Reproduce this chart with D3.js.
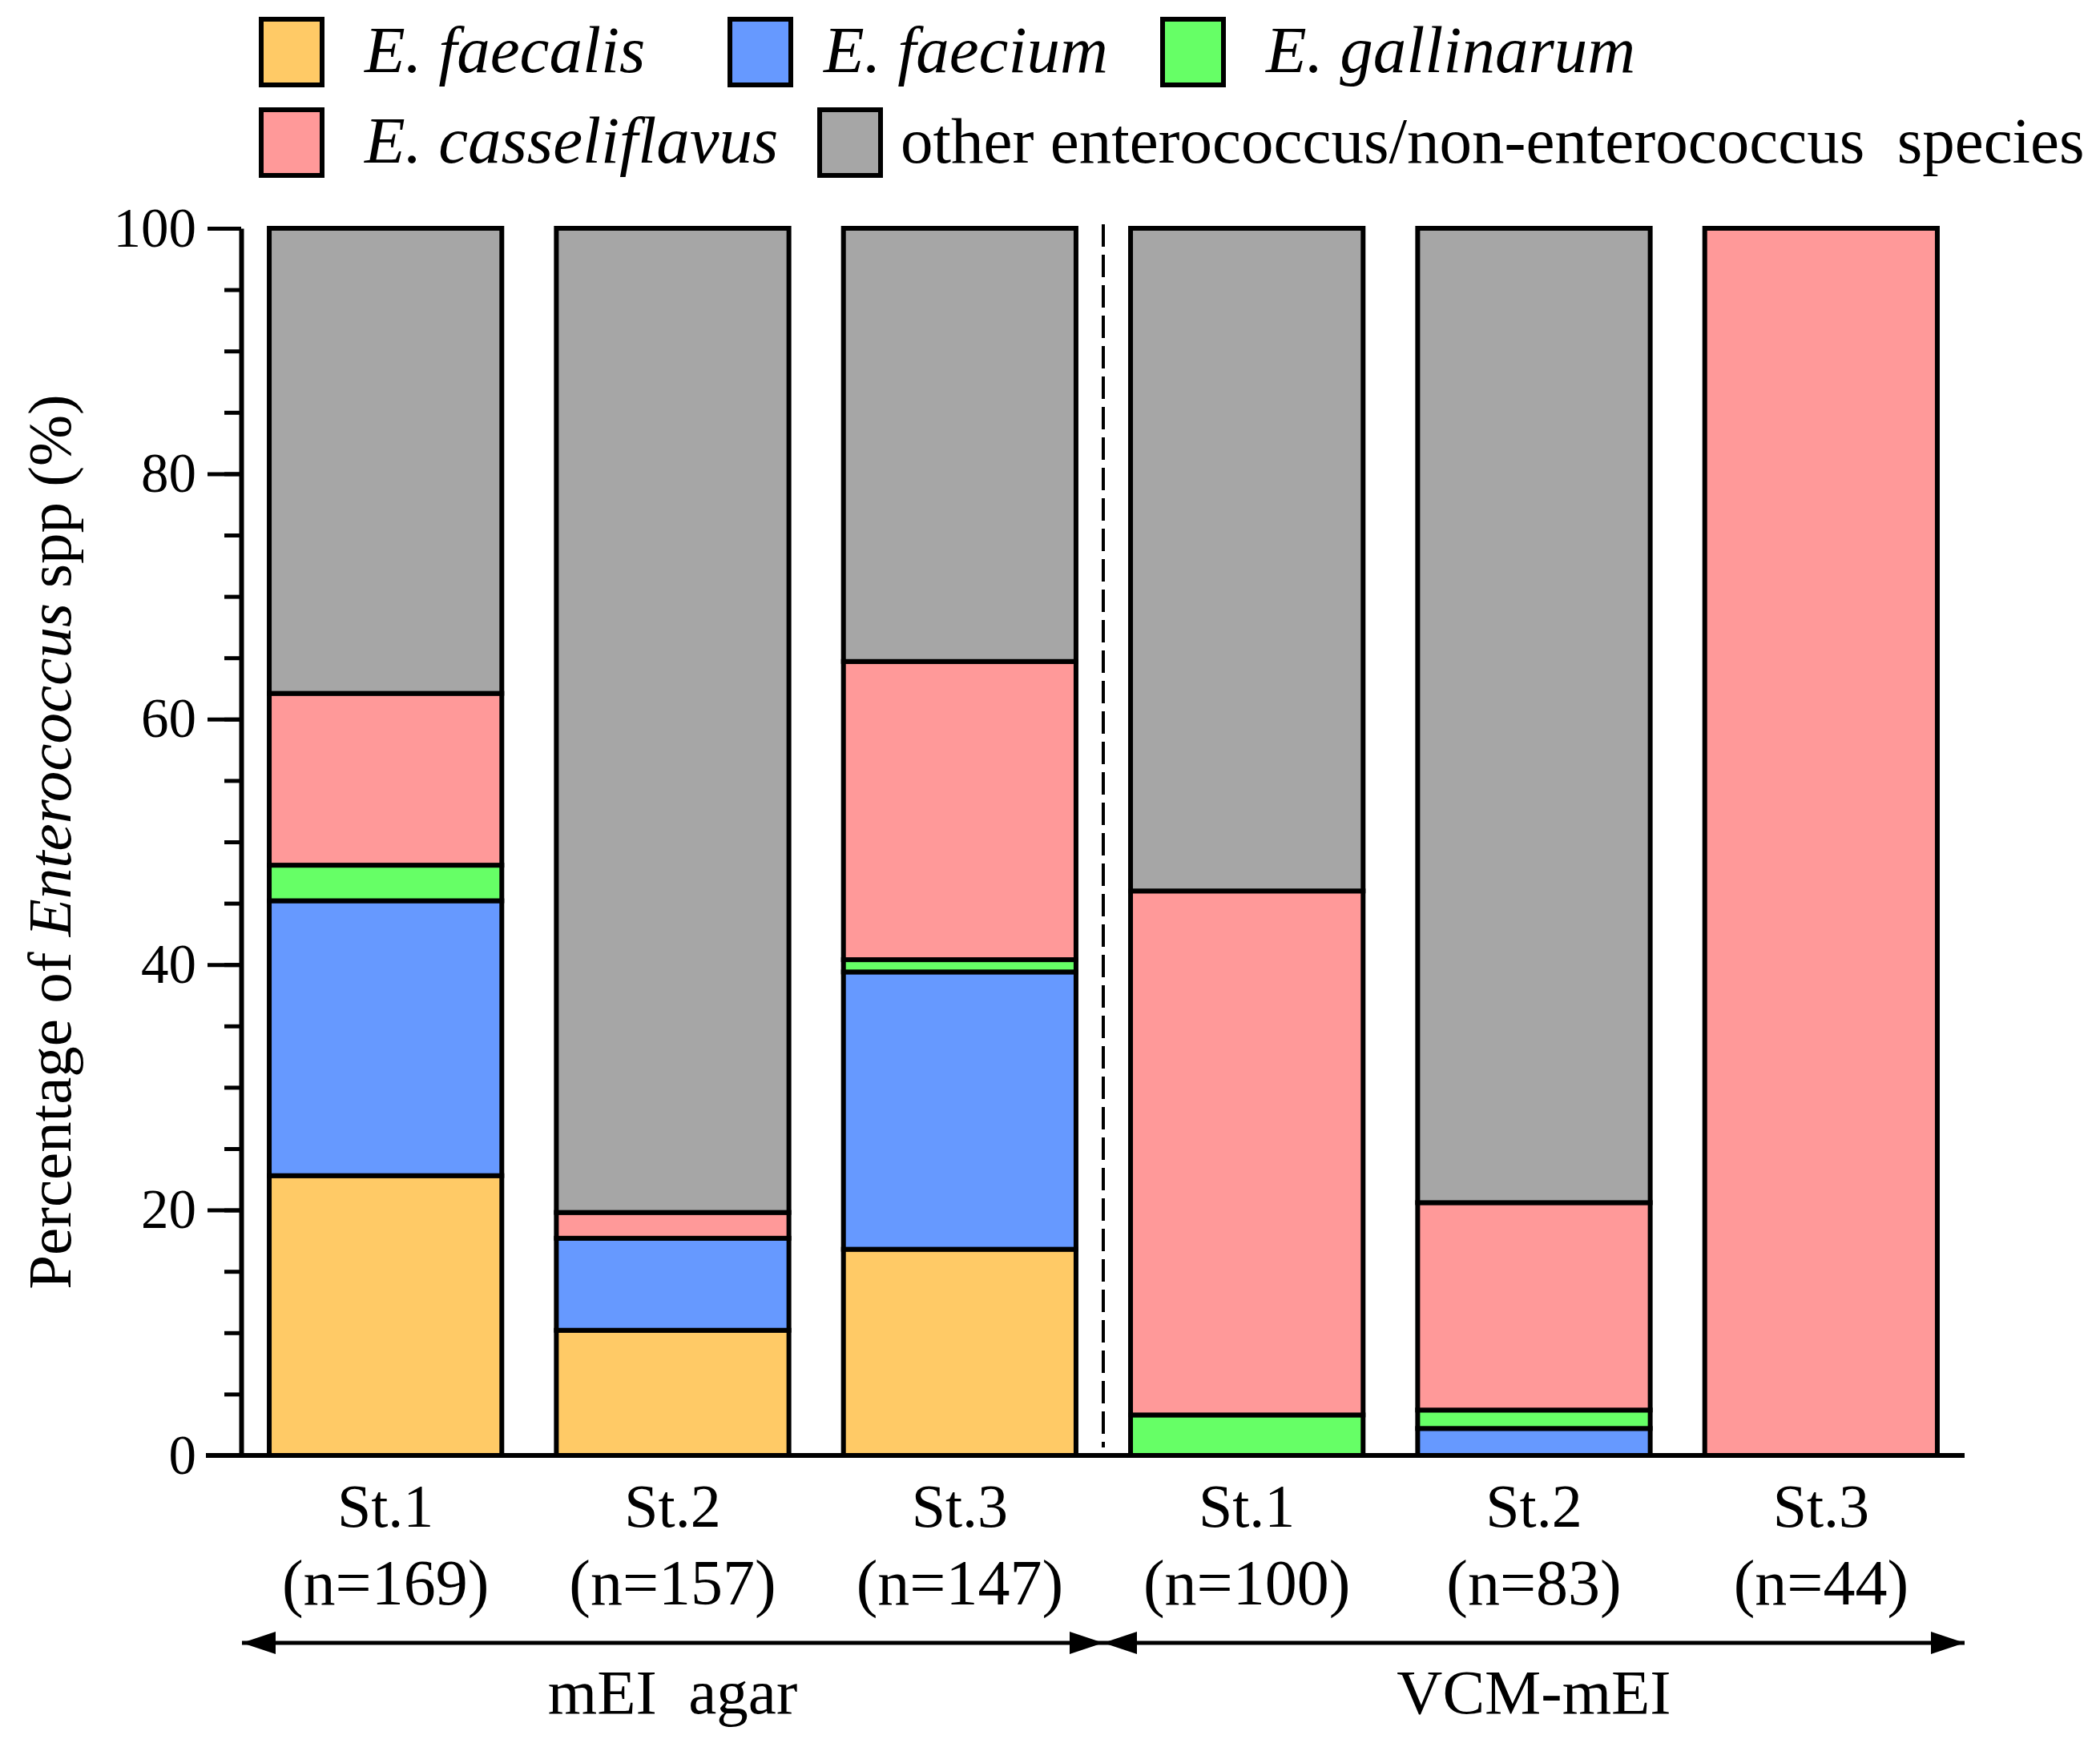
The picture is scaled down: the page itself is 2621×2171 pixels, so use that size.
<!DOCTYPE html>
<html>
<head>
<meta charset="utf-8">
<script src="https://cdn.jsdelivr.net/npm/d3@7/dist/d3.min.js"></script>
<style>
  body { margin: 0; background: #fff; }
  text { font-family: "Liberation Serif", "Times New Roman", serif; fill: #000; }
</style>
</head>
<body>
<script>
// data (percent of isolates per site)
var sites = ["St.1", "St.2", "St.3", "St.1", "St.2", "St.3"];
var counts = ["(n=169)", "(n=157)", "(n=147)", "(n=100)", "(n=83)", "(n=44)"];
var media = ["mEI agar", "VCM-mEI"];

var faecalis      = [22.8, 10.2, 16.8, 0, 0, 0];
var faecium       = [22.4, 7.5, 22.6, 0, 2.2, 0];
var gallinarum    = [2.9, 0, 1.0, 3.3, 1.5, 0];
var casseliflavus = [14.0, 2.1, 24.3, 42.7, 16.9, 100];
var other         = [37.9, 80.2, 35.3, 54.0, 79.4, 0];

var yTicks = [0, 20, 40, 60, 80, 100];

var keys = ["faecalis", "faecium", "gallinarum", "casseliflavus", "other"];
var legendNames = ["E. faecalis", "E. faecium", "E. gallinarum", "E. casseliflavus",
                   "other enterococcus/non-enterococcus  species"];
var colors = ["#FFCA66", "#6699FF", "#66FF66", "#FF9999", "#A6A6A6"];

var width = 2621, height = 2171;

var svg = d3.select("body").append("svg")
    .attr("width", width)
    .attr("height", height);

// build rows for the stack
var rows = sites.map(function(s, i) {
  return {
    id: i,
    faecalis: faecalis[i],
    faecium: faecium[i],
    gallinarum: gallinarum[i],
    casseliflavus: casseliflavus[i],
    other: other[i]
  };
});

var stacked = d3.stack().keys(keys)(rows);

var x = d3.scaleBand()
    .domain(d3.range(sites.length))
    .range([302, 2452])
    .paddingInner(0.19)
    .paddingOuter(0.095);

var y = d3.scaleLinear()
    .domain([0, 100])
    .range([1817, 285]);

var color = d3.scaleOrdinal().domain(keys).range(colors);

// bars
var layers = svg.append("g").selectAll("g")
    .data(stacked)
    .enter().append("g")
    .attr("fill", function(d) { return color(d.key); });

layers.selectAll("rect")
    .data(function(d) { return d.filter(function(p) { return p[1] - p[0] > 0; }); })
    .enter().append("rect")
    .attr("x", function(d) { return x(d.data.id); })
    .attr("width", x.bandwidth())
    .attr("y", function(d) { return y(d[1]); })
    .attr("height", function(d) { return y(d[0]) - y(d[1]); })
    .attr("stroke", "#000")
    .attr("stroke-width", 6);

// y axis: major and minor ticks
var yMinor = svg.append("g")
    .attr("transform", "translate(" + 301 + ",0)")
    .call(d3.axisLeft(y).ticks(20).tickSize(21).tickFormat(""));
yMinor.select(".domain").remove();
yMinor.selectAll("line").attr("stroke-width", 5);

var yAxis = svg.append("g")
    .attr("transform", "translate(" + 301 + ",0)")
    .call(d3.axisLeft(y).tickValues(yTicks).tickSize(42).tickSizeOuter(0).tickPadding(14));
yAxis.select(".domain").attr("stroke-width", 6);
yAxis.selectAll("line").attr("stroke-width", 5);
yAxis.selectAll("text").attr("font-size", 69).attr("font-family", "Liberation Serif");

// x axis line
svg.append("line")
    .attr("x1", 301 - 44).attr("x2", x.range()[1])
    .attr("y1", y(0)).attr("y2", y(0))
    .attr("stroke", "#000").attr("stroke-width", 6);

// dashed separator between the two media
var sepX = (x(2) + x.bandwidth() + x(3)) / 2;
svg.append("line")
    .attr("x1", sepX).attr("x2", sepX)
    .attr("y1", y(100) - 5).attr("y2", y(0) - 10)
    .attr("stroke", "#000").attr("stroke-width", 4)
    .attr("stroke-dasharray", "28,10");

// category labels
var cat = svg.append("g").selectAll("g")
    .data(sites)
    .enter().append("g")
    .attr("transform", function(d, i) { return "translate(" + (x(i) + x.bandwidth() / 2) + "," + y(0) + ")"; });
cat.append("text")
    .attr("y", 89)
    .attr("text-anchor", "middle")
    .attr("font-size", 76)
    .text(function(d) { return d; });
cat.append("text")
    .attr("y", 186)
    .attr("text-anchor", "middle")
    .attr("font-size", 80)
    .text(function(d, i) { return counts[i]; });

// arrows under the groups
var defs = svg.append("defs");
defs.append("marker")
    .attr("id", "ah")
    .attr("viewBox", "0 0 42 28")
    .attr("refX", 42).attr("refY", 14)
    .attr("markerWidth", 42).attr("markerHeight", 28)
    .attr("markerUnits", "userSpaceOnUse")
    .attr("orient", "auto-start-reverse")
    .append("path")
    .attr("d", "M0,0 L42,14 L0,28 Z")
    .attr("fill", "#000");

var arrowY = 2051;
var spans = [[x.range()[0], sepX], [sepX, x.range()[1]]];
svg.append("g").selectAll("line")
    .data(spans)
    .enter().append("line")
    .attr("x1", function(d) { return d[0]; })
    .attr("x2", function(d) { return d[1]; })
    .attr("y1", arrowY).attr("y2", arrowY)
    .attr("stroke", "#000").attr("stroke-width", 5)
    .attr("marker-start", "url(#ah)")
    .attr("marker-end", "url(#ah)");

svg.append("g").selectAll("text")
    .data(media)
    .enter().append("text")
    .attr("x", function(d, i) { return (spans[i][0] + spans[i][1]) / 2; })
    .attr("y", 2139)
    .attr("text-anchor", "middle")
    .attr("font-size", 79)
    .style("white-space", "pre")
    .text(function(d) { return d.replace(" ", "  "); });

// y axis title
var yt = svg.append("text")
    .attr("transform", "translate(88," + y(50) + ") rotate(-90)")
    .attr("text-anchor", "middle")
    .attr("font-size", 77);
yt.append("tspan").text("Percentage of ");
yt.append("tspan").attr("font-style", "italic").text("Enterococcus");
yt.append("tspan").text(" spp (%)");

// legend
var legPos = [[326, 24], [911, 24], [1451, 24], [326, 137], [1023, 137]];
var legTextX = [455, 1028, 1580, 455, 1124];
var leg = svg.append("g").selectAll("g")
    .data(keys)
    .enter().append("g");
leg.append("rect")
    .attr("x", function(d, i) { return legPos[i][0]; })
    .attr("y", function(d, i) { return legPos[i][1]; })
    .attr("width", 76).attr("height", 82)
    .attr("fill", function(d) { return color(d); })
    .attr("stroke", "#000").attr("stroke-width", 6);
leg.append("text")
    .attr("x", function(d, i) { return legTextX[i]; })
    .attr("y", function(d, i) { return legPos[i][1] + 66; })
    .attr("font-size", function(d, i) { return i < 4 ? 83 : 81; })
    .attr("font-style", function(d, i) { return i < 4 ? "italic" : "normal"; })
    .style("white-space", "pre")
    .text(function(d, i) { return legendNames[i]; });
</script>
</body>
</html>
